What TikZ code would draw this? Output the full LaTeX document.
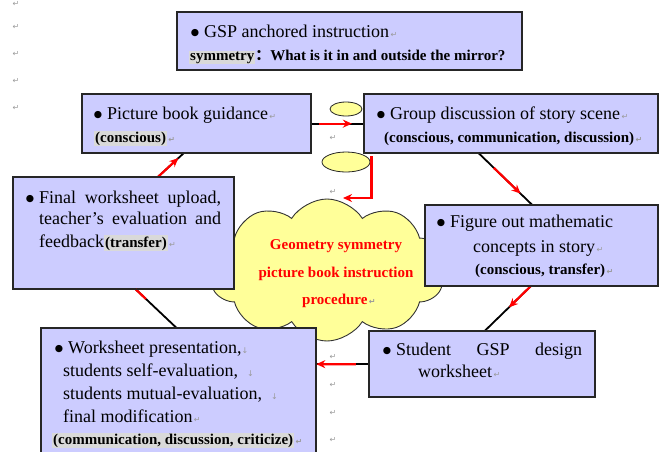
\documentclass[tikz,border=0pt]{standalone}
\usepackage{fontspec}
\setmainfont{Liberation Serif}
\newfontfamily\markfont{DejaVu Sans}
\newfontfamily\cjkfont{Noto Sans CJK SC}
\usetikzlibrary{shapes.geometric,shapes.symbols,arrows.meta,calc}

\definecolor{boxfill}{HTML}{CCCCFF}
\definecolor{cloudfill}{HTML}{FFFF99}
\definecolor{hlgray}{HTML}{D9D9D9}
\definecolor{markgray}{HTML}{9A9A9A}
\definecolor{arrred}{HTML}{FF0000}

% paragraph / line-break marks, highlight, bullet, type sizes
\newcommand\pmk{{\markfont\fontsize{8}{8}\selectfont\color{markgray}\,↵}}
\newcommand\lbk{{\markfont\fontsize{8}{8}\selectfont\color{markgray}↓}}
\newcommand\hlt[1]{{\setlength{\fboxsep}{1pt}\colorbox{hlgray}{#1}}}
\newcommand\bul{\llap{\raisebox{1.5pt}{\markfont\fontsize{9.5}{9.5}\selectfont ●}\hspace{5pt}}}
\newcommand\mainsz{\fontsize{18}{22}\selectfont}
\newcommand\tagsz{\fontsize{15}{18}\selectfont\bfseries}

\tikzset{
  box/.style={rectangle, draw=black!85, line width=1.3pt, fill=boxfill,
    inner sep=0pt, anchor=north west},
  txt/.style={anchor=base west, inner sep=0pt, font=\mainsz},
  tagtxt/.style={anchor=base west, inner sep=0pt, font=\tagsz},
  ctext/.style={inner sep=0pt, font=\tagsz, text=arrred},
  conn/.style={draw=black, line width=1.8pt},
  redarr/.style={draw=arrred, line width=2.2pt, -{Stealth[length=9pt,width=8pt]}},
  redseg/.style={draw=arrred, line width=2.2pt},
  pmark/.style={inner sep=0pt, font=\markfont\fontsize{8}{8}\selectfont, text=markgray},
  bubble/.style={ellipse, draw=black!85, line width=0.8pt, fill=cloudfill, inner sep=0pt}
}

\begin{document}
\begin{tikzpicture}[x=1pt, y=-1pt]
\useasboundingbox (0,0) rectangle (659,451);

% central cloud
\node[cloud, cloud puffs=10, cloud puff arc=115, aspect=1.65,
      draw=black!80, line width=0.9pt, fill=cloudfill,
      minimum width=236pt, minimum height=142pt, inner sep=0pt] (cl) at (327,270) {};

% boxes
\node[box, minimum width=344pt, minimum height=57pt]  (top) at (177,12) {};
\node[box, minimum width=228pt, minimum height=58pt]  (pb)  at (82,94) {};
\node[box, minimum width=293pt, minimum height=58pt]  (gd)  at (364,94) {};
\node[box, minimum width=220pt, minimum height=111pt] (fw)  at (13,177) {};
\node[box, minimum width=232pt, minimum height=80pt]  (fo)  at (425,205) {};
\node[box, minimum width=274pt, minimum height=135pt] (wp)  at (41,328) {};
\node[box, minimum width=225pt, minimum height=65pt]  (st)  at (369,331) {};

% connector endpoints on the box borders
\coordinate (gdS) at ($(gd.south west)!0.39!(gd.south east)$);
\coordinate (foN) at ($(fo.north west)!0.46!(fo.north east)$);
\coordinate (foS) at ($(fo.south west)!0.4526!(fo.south east)$);
\coordinate (stN) at ($(st.north west)!0.511!(st.north east)$);
\coordinate (wpE) at (st.west -| wp.east);
\coordinate (wpN) at ($(wp.north west)!0.4927!(wp.north east)$);
\coordinate (fwS) at ($(fw.south west)!0.5545!(fw.south east)$);
\coordinate (fwN) at ($(fw.north west)!0.6545!(fw.north east)$);
\coordinate (pbS) at ($(pb.south west)!0.443!(pb.south east)$);

% connectors: black line with a red arrow laid over part of it
\draw[conn] (pb.east) -- (gd.west);
\draw[redarr] ($(pb.east)!0.15!(gd.west)$) -- ($(pb.east)!0.77!(gd.west)$);

\draw[conn] (gdS) -- (foN);
\draw[redarr] ($(gdS)!0.28!(foN)$) -- ($(gdS)!0.78!(foN)$);

\draw[conn] (foS) -- (stN);
\draw[redarr] (foS) -- ($(foS)!0.47!(stN)$);

\draw[conn] (st.west) -- (wpE);
\draw[redarr] ($(st.west)!0.25!(wpE)$) -- (wpE);

\draw[conn] (wpN) -- (fwS);
\draw[redseg] ($(wpN)!0.75!(fwS)$) -- (fwS);

\draw[conn] (fwN) -- (pbS);
\draw[redarr] (fwN) -- ($(fwN)!0.8!(pbS)$);

% box outlines drawn again over the line ends
\foreach \b in {top,pb,gd,fw,fo,wp,st}
  \draw[draw=black!85, line width=1.3pt] (\b.north west) rectangle (\b.south east);

% small bubbles and the elbow arrow into the cloud
\node[bubble, minimum width=32pt, minimum height=14pt] (e1) at (346,109) {};
\node[bubble, minimum width=48pt, minimum height=20pt] (e2) at (346,162) {};
\coordinate (cin) at (343,198);
\draw[redarr] ($(e2.east)+(1,-6)$) |- (cin);

% box texts
\node[txt] (t1) at (204,37) {\bul GSP anchored instruction\pmk};
\node[tagtxt] (t2) at (189,60) {\hlt{symmetry}{\cjkfont ：}What is it in and outside the mirror?};

\node[txt] (pb1) at (107,119) {\bul Picture book guidance\pmk};
\node[tagtxt] (pb2) at (94,142) {\hlt{(conscious)}\pmk};

\node[txt] (gd1) at (390,119) {\bul Group discussion of story scene\pmk};
\node[tagtxt] (gd2) at (384,142) {(conscious, communication, discussion)\pmk};

\node[txt] (fw1) at (39,203) {\bul\makebox[182pt][s]{Final worksheet upload,}};
\node[txt] (fw2) at (39,224) {\makebox[182pt][s]{teacher’s evaluation and}};
\node[txt] (fw3) at (39,247) {feedback{\tagsz\hlt{(transfer)}}\pmk};

\node[txt] (fo1) at (450,227) {\bul Figure out mathematic};
\node[txt] (fo2) at (473,252) {concepts in story\pmk};
\node[tagtxt] (fo3) at (475,274) {(conscious, transfer)\pmk};

\node[txt] (wp1) at (68,353) {\bul Worksheet presentation,\lbk};
\node[txt] (wp2) at (63,376) {students self-evaluation,\ \ \lbk};
\node[txt] (wp3) at (63,399) {students mutual-evaluation,\ \ \lbk};
\node[txt] (wp4) at (63,422) {final modification\pmk};
\node[tagtxt] (wp5) at (52,444) {\hlt{(communication, discussion, criticize)}\pmk};

\node[txt] (st1) at (396,355) {\bul\makebox[186pt][s]{Student GSP design}};
\node[txt] (st2) at (418,377) {worksheet\pmk};

% cloud caption
\node[ctext, anchor=base] (c1) at (336,249) {Geometry symmetry};
\node[ctext, anchor=base] (c2) at (336,277) {picture book instruction};
\node[ctext, anchor=base west] (c3) at (302,304) {procedure\pmk};

% empty paragraph marks
\foreach \yy [count=\i] in {4,27,54,81,108}
  \node[pmark] (pl\i) at (16,\yy) {↵};
\foreach \yy [count=\i] in {138,192,357,385,413,440}
  \node[pmark] (pc\i) at (333,\yy) {↵};
\end{tikzpicture}
\end{document}
